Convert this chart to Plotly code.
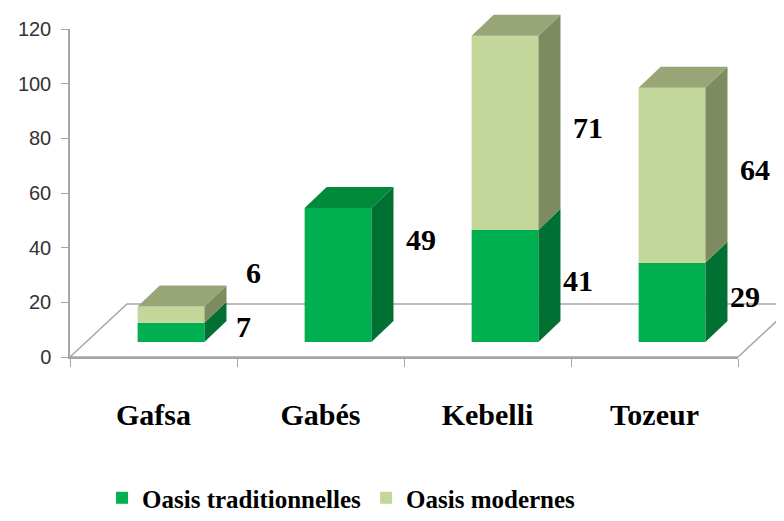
import plotly.graph_objects as go

# ---- data ----
categories = ["Gafsa", "Gabés", "Kebelli", "Tozeur"]
oasis_traditionnelles = [7, 49, 41, 29]
oasis_modernes = [6, 0, 71, 64]
series_names = ["Oasis traditionnelles", "Oasis modernes"]
y_ticks = [0, 20, 40, 60, 80, 100, 120]

# ---- style / 3D geometry (pseudo-perspective) ----
X0, X1 = -0.5, 3.5
Y0, Y1 = 0, 120
BASE = 5.5          # front faces sit slightly above the floor's front edge
BAR_W = 0.4
BAR_SHIFT = 0.105   # front face shifted right by depth
DX, DY = 0.132, 7.7         # bar depth
FDX, FDY = 0.341, 19.4      # floor depth
AXIS_GREY = "#A6A6A6"

colors_front = ["#00B050", "#C4D79B"]
colors_side = ["#007033", "#7E8A5F"]
colors_top = ["#01893C", "#97A577"]


def P(x, y):
    return ((x - X0) / (X1 - X0), (y - Y0) / (Y1 - Y0))


def path(pts):
    return "M " + " L ".join(f"{a:.5f},{b:.5f}" for a, b in (P(*p) for p in pts)) + " Z"


fig = go.Figure()

shapes = []
# floor
shapes.append(dict(type="path", xref="paper", yref="paper", layer="below",
                   path=path([(X0, 0), (X0 + FDX, FDY), (X1 + FDX, FDY), (X1, 0)]),
                   line=dict(color=AXIS_GREY, width=1.5), fillcolor="white"))

# front faces through the bar traces
bases_trad = [BASE] * len(categories)
bases_mod = [BASE + t for t in oasis_traditionnelles]
for k, (vals, bases) in enumerate([(oasis_traditionnelles, bases_trad),
                                   (oasis_modernes, bases_mod)]):
    fig.add_trace(go.Bar(x=categories, y=vals, base=bases, width=BAR_W,
                         offset=BAR_SHIFT - BAR_W / 2, name=series_names[k],
                         marker=dict(color=colors_front[k], line=dict(width=0)),
                         hoverinfo="skip"))

# side and top faces computed from the same values
for i, cat in enumerate(categories):
    segs = [(BASE, oasis_traditionnelles[i], 0),
            (BASE + oasis_traditionnelles[i], oasis_modernes[i], 1)]
    xl = i + BAR_SHIFT - BAR_W / 2
    xr = i + BAR_SHIFT + BAR_W / 2
    top_k = 0
    top_y = BASE
    for b, v, k in segs:
        if v <= 0:
            continue
        shapes.append(dict(type="path", xref="paper", yref="paper", layer="above",
                           path=path([(xr, b), (xr + DX, b + DY), (xr + DX, b + v + DY), (xr, b + v)]),
                           line=dict(width=0), fillcolor=colors_side[k]))
        top_k = k
        top_y = b + v
    shapes.append(dict(type="path", xref="paper", yref="paper", layer="above",
                       path=path([(xl, top_y), (xl + DX, top_y + DY), (xr + DX, top_y + DY), (xr, top_y)]),
                       line=dict(width=0), fillcolor=colors_top[top_k]))

# data labels (paper coordinates so labels right of the last bar are not hidden)
label_nudge_px = {(0, 1): 37, (1, 0): 30}
annotations = []
for i in range(len(categories)):
    segs = [(BASE, oasis_traditionnelles[i], 0),
            (BASE + oasis_traditionnelles[i], oasis_modernes[i], 1)]
    nonzero = [s for s in segs if s[1] > 0]
    for b, v, k in nonzero:
        is_top = (b, v, k) == nonzero[-1]
        px_, py_ = P(i + (0.6 if is_top else 0.54), b + v / 2 + 2)
        annotations.append(dict(
            x=px_, y=py_, xref="paper", yref="paper", text=str(v), showarrow=False,
            xanchor="center", yanchor="middle",
            yshift=label_nudge_px.get((i, k), 0),
            font=dict(family="Liberation Serif", size=30, color="black", weight="bold")))

# page body has an 8px margin: figure is sized/margined so the plot area lands where it should
fig.update_layout(
    width=776, height=513,
    margin=dict(l=62, r=46, t=21, b=164, autoexpand=False),
    paper_bgcolor="white", plot_bgcolor="white",
    barmode="overlay",
    shapes=shapes, annotations=annotations,
    showlegend=True,
    legend=dict(orientation="h", x=0.048, y=-0.43, xanchor="left", yanchor="middle",
                font=dict(family="Liberation Serif", size=25, color="black", weight="bold"),
                bgcolor="rgba(0,0,0,0)", itemclick=False),
    xaxis=dict(range=[X0, X1], type="category", categoryorder="array", categoryarray=categories,
               tickson="boundaries", ticks="outside", ticklen=8, tickcolor=AXIS_GREY,
               showline=True, linecolor=AXIS_GREY, linewidth=1.5, showgrid=False,
               zeroline=False, ticklabelstandoff=30, automargin=False,
               tickfont=dict(family="Liberation Serif", size=30, color="black", weight="bold")),
    yaxis=dict(range=[Y0, Y1], tickvals=y_ticks, ticks="outside", ticklen=7,
               tickcolor=AXIS_GREY, showline=True, linecolor=AXIS_GREY, linewidth=1.5,
               showgrid=False, zeroline=False, ticklabelstandoff=6, automargin=False,
               tickfont=dict(family="Liberation Sans", size=20, color="#333333")),
)

fig.write_html("out.html")
